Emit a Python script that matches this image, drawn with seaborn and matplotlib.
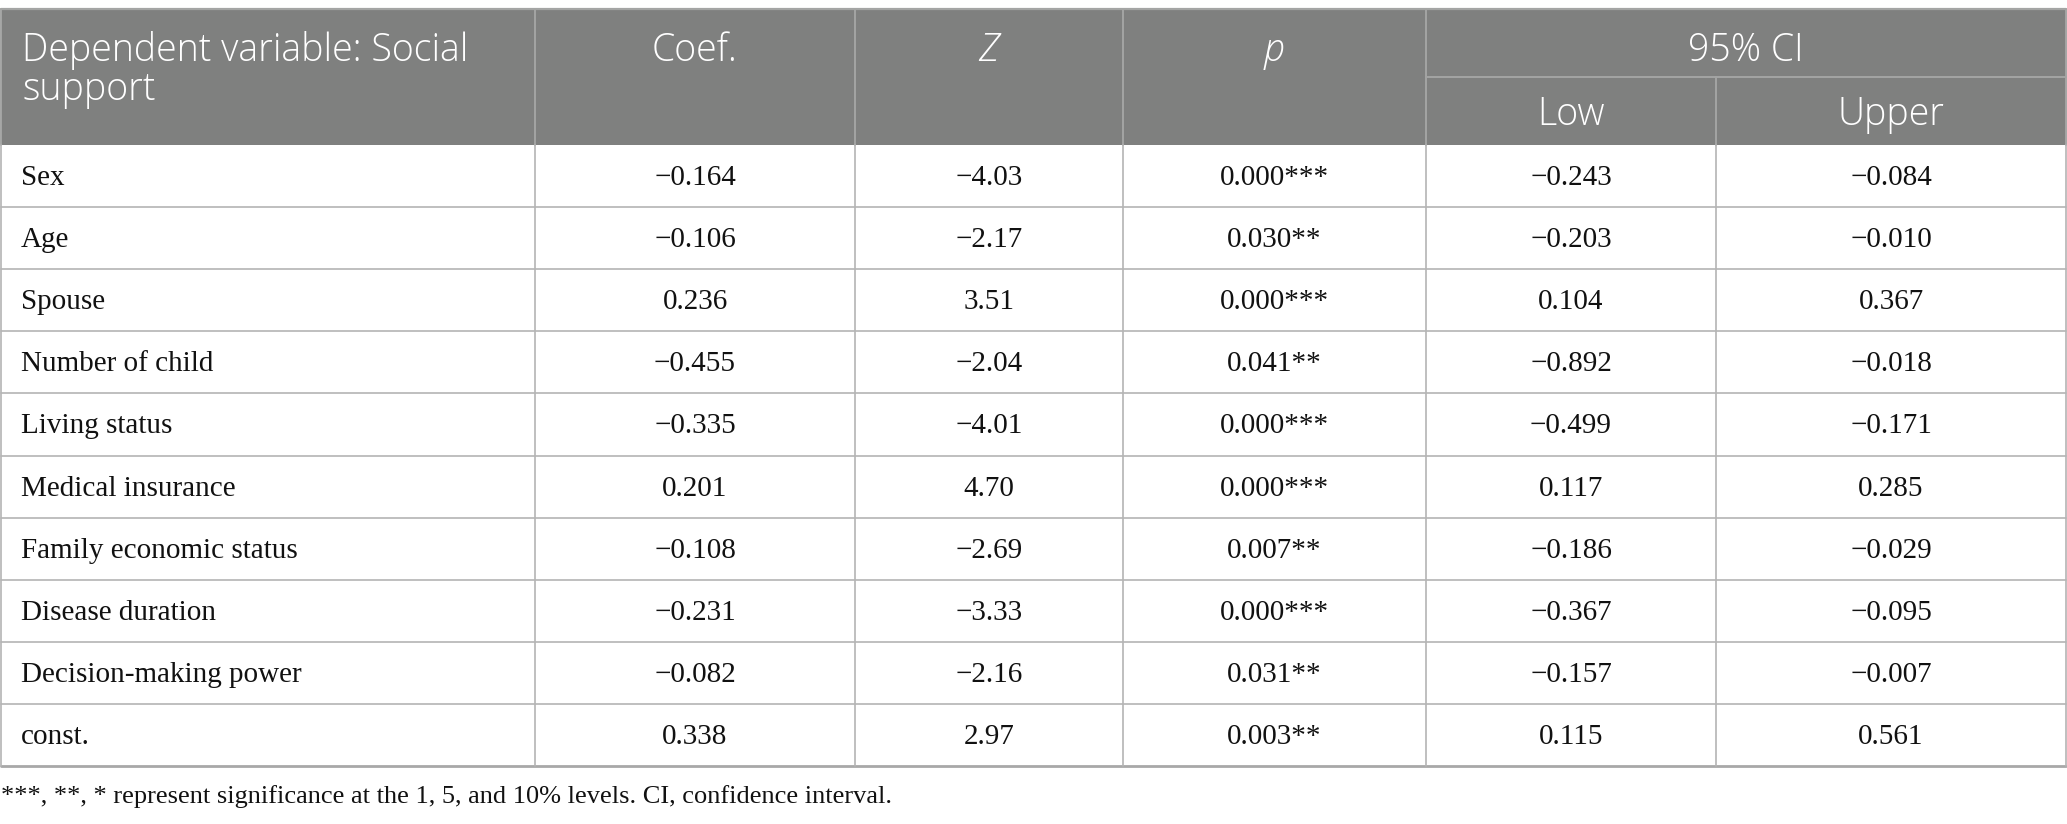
import matplotlib
matplotlib.use("Agg")
import matplotlib.pyplot as plt
import seaborn as sns
from matplotlib.patches import Rectangle

sns.set_theme(style="white")

variables = ["Sex", "Age", "Spouse", "Number of child", "Living status",
             "Medical insurance", "Family economic status", "Disease duration",
             "Decision-making power", "const."]
coef = ["\u22120.164", "\u22120.106", "0.236", "\u22120.455", "\u22120.335",
        "0.201", "\u22120.108", "\u22120.231", "\u22120.082", "0.338"]
zval = ["\u22124.03", "\u22122.17", "3.51", "\u22122.04", "\u22124.01",
        "4.70", "\u22122.69", "\u22123.33", "\u22122.16", "2.97"]
pval = ["0.000***", "0.030**", "0.000***", "0.041**", "0.000***",
        "0.000***", "0.007**", "0.000***", "0.031**", "0.003**"]
ci_low = ["\u22120.243", "\u22120.203", "0.104", "\u22120.892", "\u22120.499",
          "0.117", "\u22120.186", "\u22120.367", "\u22120.157", "0.115"]
ci_up = ["\u22120.084", "\u22120.010", "0.367", "\u22120.018", "\u22120.171",
         "0.285", "\u22120.029", "\u22120.095", "\u22120.007", "0.561"]
header_first = ["Dependent variable: Social", "support"]
footnote = "***, **, * represent significance at the 1, 5, and 10% levels. CI, confidence interval."

W, H = 2067, 824
col_x = [1, 535, 855, 1123, 1426, 1716, 2066]
top, mid, hbot = 9, 77, 145
row_h = (766 - 145) / 10

HDR = "#7f807f"
LINE = "#b4b4b4"
HFONT = "Open Sans"
BFONT = "Liberation Serif"

fig = plt.figure(figsize=(W / 100, H / 100), dpi=100)
ax = fig.add_axes([0, 0, 1, 1])
ax.set_xlim(0, W)
ax.set_ylim(H, 0)
ax.axis("off")

# header background
ax.add_patch(Rectangle((col_x[0], top), col_x[-1] - col_x[0], hbot - top,
                       facecolor=HDR, edgecolor="none", zorder=1))

hsize = 27
hw = "light"
for i, line in enumerate(header_first):
    ax.text(col_x[0] + 21, 61 + i * 39, line, color="white", fontsize=hsize,
            family=HFONT, weight=hw, ha="left", va="baseline", zorder=3)
for txt, x0, x1, st in [("Coef.", col_x[1], col_x[2], "normal"),
                        ("Z", col_x[2], col_x[3], "italic"),
                        ("p", col_x[3], col_x[4], "italic"),
                        ("95% CI", col_x[4], col_x[6], "normal")]:
    ax.text((x0 + x1) / 2, 61, txt, color="white", fontsize=hsize,
            family=HFONT, weight=hw, style=st, ha="center", va="baseline", zorder=3)
for txt, x0, x1 in [("Low", col_x[4], col_x[5]), ("Upper", col_x[5], col_x[6])]:
    ax.text((x0 + x1) / 2, 125, txt, color="white", fontsize=hsize,
            family=HFONT, weight=hw, ha="center", va="baseline", zorder=3)

# header lines
hl = "#a4a5a4"
ax.plot([col_x[0], col_x[-1]], [top, top], color=hl, lw=1.6, zorder=2)
ax.plot([col_x[4], col_x[-1]], [mid, mid], color=hl, lw=1.4, zorder=2)
for i, x in enumerate(col_x):
    y0 = mid if i == 5 else top
    ax.plot([x, x], [y0, hbot], color=hl, lw=1.4, zorder=2)

# body
bsize = 21
columns = [coef, zval, pval, ci_low, ci_up]
for r, name in enumerate(variables):
    yc = hbot + (r + 0.5) * row_h + 2
    ax.text(col_x[0] + 20, yc, name, fontsize=bsize, family=BFONT, color="#111111",
            ha="left", va="center", zorder=3)
    for c, vals in enumerate(columns):
        xc = (col_x[c + 1] + col_x[c + 2]) / 2
        ax.text(xc, yc, vals[r], fontsize=bsize, family=BFONT, color="#111111",
                ha="center", va="center", zorder=3)

for r in range(1, 10):
    y = hbot + r * row_h
    ax.plot([col_x[0], col_x[-1]], [y, y], color=LINE, lw=1.2, zorder=2)
ax.plot([col_x[0], col_x[-1]], [766, 766], color="#a8a8a8", lw=2.0, zorder=2)
for x in col_x:
    ax.plot([x, x], [hbot, 766], color=LINE, lw=1.2, zorder=2)

ax.text(col_x[0], 797, footnote, fontsize=19, family=BFONT, color="#111111",
        ha="left", va="center", zorder=3)

fig.savefig("out.png", dpi=100, facecolor="white")
